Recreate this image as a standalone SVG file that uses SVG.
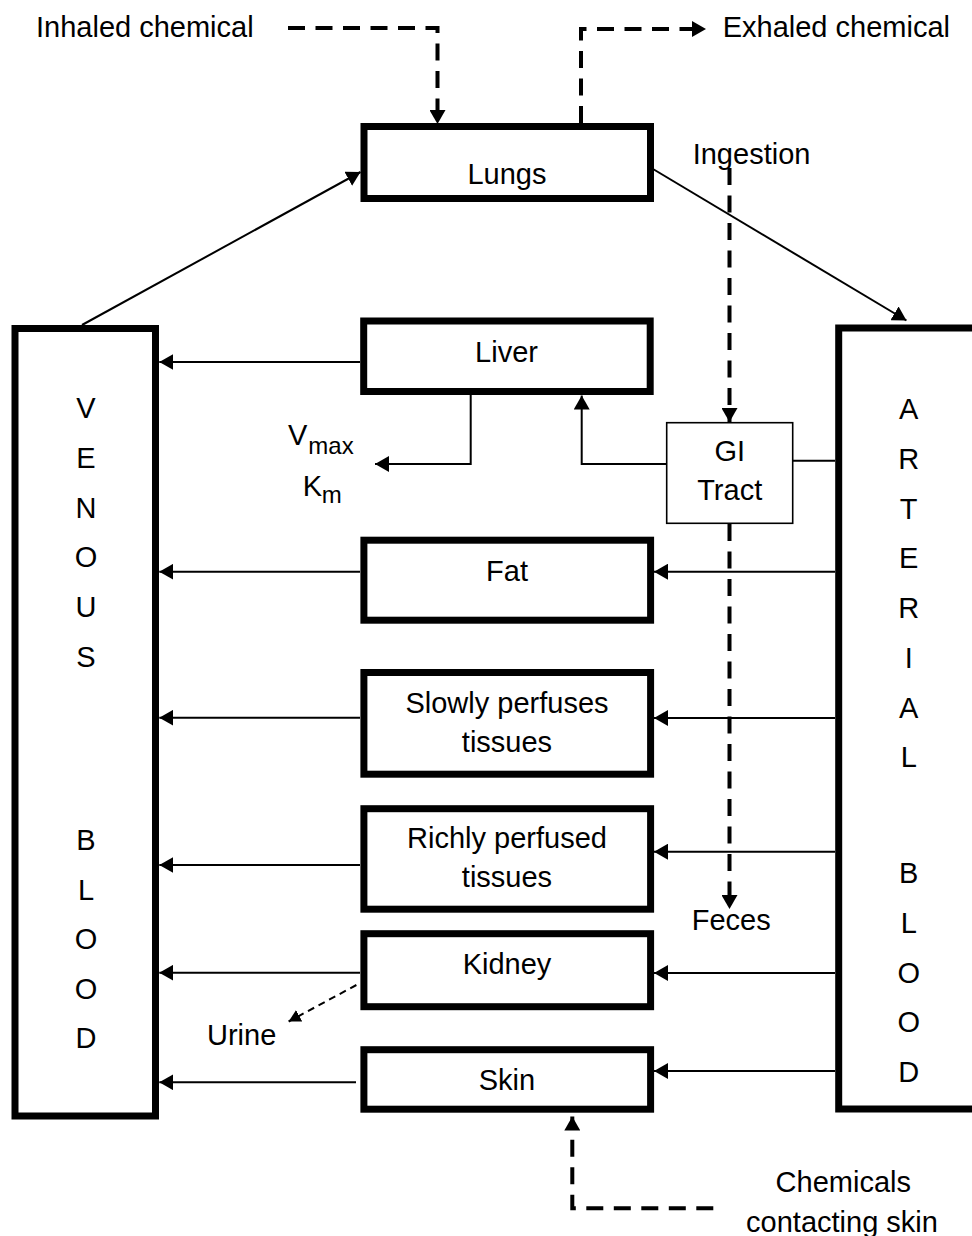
<svg xmlns="http://www.w3.org/2000/svg" width="972" height="1236" viewBox="0 0 972 1236">
<defs>
<style>
text{font-family:"Liberation Sans",Arial,sans-serif;font-size:29px;fill:#000}
.c{text-anchor:middle}
.sub{font-size:24px}
.box{fill:#fff;stroke:#000;stroke-width:7}
.thin{fill:#fff;stroke:#000;stroke-width:1.6}
.ln{fill:none;stroke:#000;stroke-width:2}
.dash{fill:none;stroke:#000;stroke-width:4;stroke-dasharray:17 10.5}
.dsm{fill:none;stroke:#000;stroke-width:2;stroke-dasharray:7 5}
</style>
<marker id="ah" markerUnits="userSpaceOnUse" markerWidth="14" markerHeight="16" refX="14" refY="8" orient="auto" viewBox="0 0 14 16"><path d="M0,0 L14,8 L0,16 z" fill="#000" stroke="none"/></marker>
<marker id="ahs" markerUnits="userSpaceOnUse" markerWidth="12" markerHeight="13" refX="12" refY="6.5" orient="auto" viewBox="0 0 12 13"><path d="M0,0 L12,6.5 L0,13 z" fill="#000" stroke="none"/></marker>
</defs>

<g id="connectors">
<!-- inhaled / exhaled -->
<path class="dash" d="M288,28 H437.5 V124" marker-end="url(#ah)"/>
<path class="dash" d="M581,123 V29 H706" marker-end="url(#ah)"/>
<!-- venous to lungs, lungs to arterial -->
<path class="ln" d="M82,325 L360.5,172" marker-end="url(#ah)"/>
<path class="ln" d="M653,169 L906.5,320.5" marker-end="url(#ah)"/>
<!-- ingestion / feces -->
<path class="dash" d="M729.5,168 V422" marker-end="url(#ah)"/>
<path class="dash" d="M729.5,524 V909" marker-end="url(#ah)"/>
<!-- liver metabolism -->
<path class="ln" d="M470.7,395 V464 H375" marker-end="url(#ah)"/>
<!-- GI to liver -->
<path class="ln" d="M666.7,464 H581.7 V395.5" marker-end="url(#ah)"/>
<!-- GI to arterial -->
<path class="ln" d="M792.7,460.7 H835"/>
<!-- organ to venous -->
<path class="ln" d="M360,362 H159.3" marker-end="url(#ah)"/>
<path class="ln" d="M360,571.7 H159.3" marker-end="url(#ah)"/>
<path class="ln" d="M360,717.7 H159.3" marker-end="url(#ah)"/>
<path class="ln" d="M360,865 H159.3" marker-end="url(#ah)"/>
<path class="ln" d="M360,972.7 H159.3" marker-end="url(#ah)"/>
<path class="ln" d="M356,1082.3 H159.3" marker-end="url(#ah)"/>
<!-- arterial to organs -->
<path class="ln" d="M835,571.7 H654" marker-end="url(#ah)"/>
<path class="ln" d="M835,718 H654" marker-end="url(#ah)"/>
<path class="ln" d="M835,851.7 H654" marker-end="url(#ah)"/>
<path class="ln" d="M835,973 H654" marker-end="url(#ah)"/>
<path class="ln" d="M835,1071 H654" marker-end="url(#ah)"/>
<!-- urine -->
<path class="dsm" d="M356.4,985 L288.6,1021.5" marker-end="url(#ahs)"/>
<!-- skin contact -->
<path class="dash" d="M713.3,1208.3 H572.3 V1116.5" marker-end="url(#ah)"/>
</g>

<g id="venous">
<rect class="box" x="15" y="328.5" width="140.5" height="787.5"/>
<text class="c" x="86" y="418.3">V</text>
<text class="c" x="86" y="468">E</text>
<text class="c" x="86" y="517.7">N</text>
<text class="c" x="86" y="567.4">O</text>
<text class="c" x="86" y="617.1">U</text>
<text class="c" x="86" y="666.8">S</text>
<text class="c" x="86" y="850">B</text>
<text class="c" x="86" y="899.5">L</text>
<text class="c" x="86" y="949">O</text>
<text class="c" x="86" y="998.5">O</text>
<text class="c" x="86" y="1048">D</text>
</g>

<g id="arterial">
<rect class="box" x="838.7" y="328" width="200" height="781"/>
<text class="c" x="908.7" y="419.3">A</text>
<text class="c" x="908.7" y="469">R</text>
<text class="c" x="908.7" y="518.7">T</text>
<text class="c" x="908.7" y="568.4">E</text>
<text class="c" x="908.7" y="618.1">R</text>
<text class="c" x="908.7" y="667.8">I</text>
<text class="c" x="908.7" y="717.5">A</text>
<text class="c" x="908.7" y="767.2">L</text>
<text class="c" x="908.7" y="883.3">B</text>
<text class="c" x="908.7" y="933">L</text>
<text class="c" x="908.7" y="982.6">O</text>
<text class="c" x="908.7" y="1032.2">O</text>
<text class="c" x="908.7" y="1081.8">D</text>
</g>

<g id="lungs">
<rect class="box" x="364" y="126.5" width="286.5" height="72"/>
<text class="c" x="507" y="183.5">Lungs</text>
</g>

<g id="liver">
<rect class="box" x="363.7" y="321" width="286.5" height="70.5"/>
<text class="c" x="506.5" y="362">Liver</text>
</g>

<g id="gi-tract">
<rect class="thin" x="666.7" y="422.7" width="126" height="100.6"/>
<text class="c" x="729.7" y="461">GI</text>
<text class="c" x="729.7" y="499.5">Tract</text>
</g>

<g id="fat">
<rect class="box" x="363.9" y="540.2" width="286.7" height="80"/>
<text class="c" x="507" y="581">Fat</text>
</g>

<g id="slowly">
<rect class="box" x="363.9" y="672.5" width="286.7" height="101.7"/>
<text class="c" x="507" y="713.3">Slowly perfuses</text>
<text class="c" x="507" y="751.7">tissues</text>
</g>

<g id="richly">
<rect class="box" x="363.9" y="808.7" width="286.7" height="100.5"/>
<text class="c" x="507" y="848.3">Richly perfused</text>
<text class="c" x="507" y="887.3">tissues</text>
</g>

<g id="kidney">
<rect class="box" x="363.9" y="933.7" width="286.7" height="73"/>
<text class="c" x="507" y="974">Kidney</text>
</g>

<g id="skin">
<rect class="box" x="363.9" y="1049.7" width="286.7" height="59.5"/>
<text class="c" x="507" y="1090">Skin</text>
</g>

<g id="labels">
<text x="36" y="37">Inhaled chemical</text>
<text x="722.7" y="36.7">Exhaled chemical</text>
<text x="692.7" y="164">Ingestion</text>
<text x="288" y="445">V<tspan class="sub" x="308.3" y="454">max</tspan></text>
<text x="302.7" y="496">K<tspan class="sub" x="321.7" y="503">m</tspan></text>
<text x="691.7" y="930">Feces</text>
<text x="207" y="1045">Urine</text>
<text class="c" x="843.3" y="1191.7">Chemicals</text>
<text class="c" x="842" y="1231.7">contacting skin</text>
</g>
</svg>
